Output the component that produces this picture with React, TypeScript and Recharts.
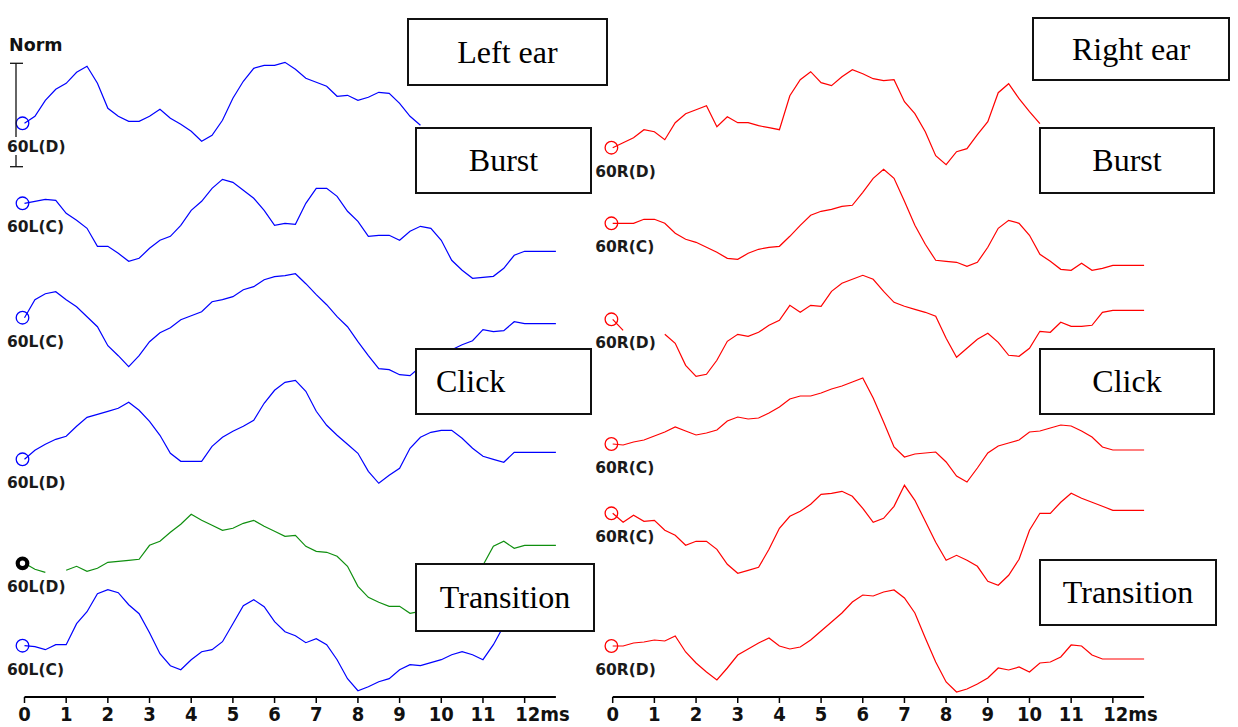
import React from "react";
import { LineChart, Line, XAxis, YAxis } from "recharts";

// ABR waveforms, 60 dB, left and right ear (amplitude units: 1 = ~Norm bar)
const times = [
  0, 0.25, 0.5, 0.75, 1, 1.25, 1.5, 1.75, 2, 2.25, 2.5, 2.75, 3, 3.25, 3.5, 3.75,
  4, 4.25, 4.5, 4.75, 5, 5.25, 5.5, 5.75, 6, 6.25, 6.5, 6.75, 7, 7.25, 7.5, 7.75,
  8, 8.25, 8.5, 8.75, 9, 9.25, 9.5, 9.75, 10, 10.25, 10.5, 10.75, 11, 11.25, 11.5,
  11.75, 12, 12.25, 12.5, 12.75,
];
const timeTicks = [0, 1, 2, 3, 4, 5, 6, 7, 8, 9, 10, 11, 12];

const n = null;

// left ear
const leftBurstD = [
  0, 0.07, 0.23, 0.34, 0.4, 0.51, 0.57, 0.4, 0.15, 0.07, 0.02, 0.02, 0.07, 0.14, 0.05, -0.01,
  -0.08, -0.18, -0.12, 0.03, 0.25, 0.42, 0.55, 0.58, 0.58, 0.61, 0.54, 0.45, 0.41, 0.37, 0.27, 0.28,
  0.23, 0.26, 0.31, 0.3, 0.2, 0.07, -0.02, n, n, n, n, n, n, n, n, n, n, n, n, n,
];
const leftBurstC = [
  0, 0.02, 0.04, 0.03, -0.1, -0.17, -0.25, -0.43, -0.43, -0.5, -0.58, -0.55, -0.45, -0.37, -0.33, -0.22,
  -0.07, 0.02, 0.15, 0.24, 0.21, 0.13, 0.05, -0.07, -0.22, -0.2, -0.21, 0.0, 0.15, 0.15, 0.07, -0.08,
  -0.18, -0.33, -0.32, -0.32, -0.37, -0.28, -0.23, -0.25, -0.37, -0.57, -0.67, -0.75, -0.74, -0.73, -0.65,
  -0.52, -0.48, -0.48, -0.48, -0.48,
];
const leftClickC = [
  0, 0.18, 0.24, 0.26, 0.18, 0.11, 0.01, -0.09, -0.28, -0.38, -0.49, -0.38, -0.24, -0.15, -0.1, -0.02,
  0.02, 0.06, 0.16, 0.18, 0.21, 0.28, 0.31, 0.38, 0.41, 0.42, 0.44, 0.34, 0.23, 0.13, 0.01, -0.09,
  -0.24, -0.38, -0.51, -0.52, -0.57, -0.58, -0.49, n, n, -0.32, -0.27, -0.23, -0.12, -0.14, -0.13,
  -0.04, -0.06, -0.06, -0.06, -0.06,
];
const leftClickD = [
  0, 0.09, 0.15, 0.2, 0.23, 0.33, 0.42, 0.45, 0.48, 0.51, 0.57, 0.49, 0.38, 0.24, 0.06, -0.02,
  -0.02, -0.02, 0.13, 0.22, 0.28, 0.33, 0.39, 0.56, 0.69, 0.77, 0.79, 0.68, 0.48, 0.34, 0.24, 0.15,
  0.06, -0.12, -0.24, -0.16, -0.09, 0.11, 0.22, 0.27, 0.29, 0.29, 0.21, 0.11, 0.03, 0.0, -0.03,
  0.07, 0.07, 0.07, 0.07, 0.07,
];
const leftTransD = [
  0, -0.06, -0.09, n, -0.07, -0.03, -0.08, -0.05, 0.01, 0.02, 0.03, 0.04, 0.18, 0.22, 0.31, 0.39,
  0.49, 0.43, 0.38, 0.33, 0.35, 0.4, 0.43, 0.37, 0.32, 0.27, 0.28, 0.17, 0.12, 0.11, 0.07, -0.03,
  -0.23, -0.34, -0.39, -0.43, -0.43, -0.5, -0.48, n, n, n, n, n, -0.02, 0.17, 0.22,
  0.15, 0.18, 0.18, 0.18, 0.18,
];
const leftTransC = [
  0, -0.01, -0.04, 0.01, 0.01, 0.22, 0.34, 0.52, 0.56, 0.53, 0.41, 0.32, 0.13, -0.08, -0.2, -0.24,
  -0.14, -0.06, -0.04, 0.04, 0.22, 0.4, 0.46, 0.39, 0.24, 0.14, 0.1, 0.03, 0.07, 0.01, -0.14, -0.33,
  -0.45, -0.41, -0.36, -0.33, -0.24, -0.19, -0.2, -0.17, -0.14, -0.09, -0.06, -0.09, -0.14, 0.01, 0.2,
  0.26, n, n, n, n,
];

// right ear
const rightBurstD = [
  0, 0.05, 0.1, 0.18, 0.16, 0.08, 0.25, 0.34, 0.38, 0.42, 0.21, 0.31, 0.25, 0.25, 0.22, 0.2,
  0.18, 0.52, 0.68, 0.76, 0.65, 0.62, 0.71, 0.78, 0.74, 0.69, 0.67, 0.68, 0.46, 0.34, 0.16, -0.08,
  -0.17, -0.04, -0.01, 0.13, 0.26, 0.55, 0.64, 0.49, 0.36, 0.24, n, n, n, n, n, n, n, n, n, n,
];
const rightBurstC = [
  0, 0, 0, 0.04, 0.04, 0, -0.1, -0.16, -0.19, -0.24, -0.29, -0.35, -0.36, -0.3, -0.26, -0.24,
  -0.23, -0.13, -0.02, 0.08, 0.12, 0.14, 0.17, 0.18, 0.31, 0.45, 0.54, 0.45, 0.22, -0.02, -0.21, -0.37,
  -0.38, -0.39, -0.43, -0.39, -0.24, -0.05, 0.03, 0.0, -0.12, -0.31, -0.38, -0.46, -0.47, -0.4, -0.47,
  -0.45, -0.42, -0.42, -0.42, -0.42,
];
const rightClickD = [
  0, -0.11, n, n, n, -0.15, -0.24, -0.46, -0.57, -0.55, -0.41, -0.22, -0.15, -0.17, -0.13, -0.06,
  -0.01, 0.14, 0.07, 0.14, 0.13, 0.28, 0.36, 0.4, 0.44, 0.4, 0.28, 0.17, 0.13, 0.1, 0.07, 0.03,
  -0.19, -0.38, -0.29, -0.2, -0.14, -0.23, -0.36, -0.37, -0.29, -0.12, -0.13, -0.03, -0.07, -0.07, -0.06,
  0.07, 0.09, 0.09, 0.09, 0.09,
];
const rightClickC = [
  0, -0.01, 0.02, 0.04, 0.08, 0.12, 0.17, 0.13, 0.09, 0.11, 0.14, 0.23, 0.27, 0.25, 0.26, 0.31,
  0.37, 0.45, 0.48, 0.48, 0.51, 0.55, 0.58, 0.62, 0.66, 0.46, 0.22, -0.03, -0.13, -0.1, -0.09, -0.08,
  -0.18, -0.32, -0.38, -0.24, -0.09, -0.02, 0.01, 0.04, 0.12, 0.13, 0.16, 0.19, 0.18, 0.13, 0.07,
  -0.03, -0.06, -0.06, -0.06, -0.06,
];
const rightTransC = [
  0, -0.09, -0.02, -0.08, -0.07, -0.17, -0.22, -0.32, -0.28, -0.28, -0.36, -0.51, -0.6, -0.57, -0.54, -0.36,
  -0.15, -0.03, 0.02, 0.09, 0.19, 0.2, 0.22, 0.17, 0.05, -0.09, -0.05, 0.07, 0.28, 0.13, -0.08, -0.29,
  -0.47, -0.42, -0.47, -0.53, -0.68, -0.72, -0.62, -0.46, -0.17, 0.0, 0.0, 0.11, 0.2, 0.15, 0.11,
  0.07, 0.03, 0.03, 0.03, 0.03,
];
const rightTransD = [
  0, 0, 0.03, 0.04, 0.06, 0.05, 0.1, -0.06, -0.17, -0.26, -0.34, -0.22, -0.09, -0.03, 0.03, 0.08,
  0.0, -0.03, -0.01, 0.06, 0.15, 0.24, 0.33, 0.44, 0.51, 0.5, 0.54, 0.56, 0.48, 0.33, 0.08, -0.16,
  -0.36, -0.46, -0.43, -0.38, -0.32, -0.22, -0.24, -0.21, -0.26, -0.17, -0.16, -0.11, 0.01, 0.0, -0.09,
  -0.13, -0.13, -0.13, -0.13, -0.13,
];

const BLUE = "#0000ff";
const RED = "#ff0000";
const GREEN = "#0f8f0f";

type Trace = {
  key: string;
  values: (number | null)[];
  label: string;
  color: string;
  base: number; // baseline, px from top of plot
  ring?: boolean;
};

const leftTraces: Trace[] = [
  { key: "lbd", values: leftBurstD, label: "60L(D)", color: BLUE, base: 123.3 },
  { key: "lbc", values: leftBurstC, label: "60L(C)", color: BLUE, base: 203.3 },
  { key: "lcc", values: leftClickC, label: "60L(C)", color: BLUE, base: 317.7 },
  { key: "lcd", values: leftClickD, label: "60L(D)", color: BLUE, base: 459.3 },
  { key: "ltd", values: leftTransD, label: "60L(D)", color: GREEN, base: 563.3, ring: true },
  { key: "ltc", values: leftTransC, label: "60L(C)", color: BLUE, base: 645.7 },
];

const rightTraces: Trace[] = [
  { key: "rbd", values: rightBurstD, label: "60R(D)", color: RED, base: 147.7 },
  { key: "rbc", values: rightBurstC, label: "60R(C)", color: RED, base: 223.3 },
  { key: "rcd", values: rightClickD, label: "60R(D)", color: RED, base: 319.3 },
  { key: "rcc", values: rightClickC, label: "60R(C)", color: RED, base: 444 },
  { key: "rtc", values: rightTransC, label: "60R(C)", color: RED, base: 513.3 },
  { key: "rtd", values: rightTransD, label: "60R(D)", color: RED, base: 646 },
];

const PLOT_H = 697;
const PX_PER_UNIT = 100;
const LABEL_FONT = "'DejaVu Sans', Verdana, sans-serif";

function TimeTick(props: any) {
  const { x, y, payload } = props;
  const v = payload.value;
  const style = {
    fontFamily: "'Liberation Sans Narrow', 'DejaVu Sans Condensed', sans-serif",
    fontWeight: 700,
    fontSize: 20,
    fill: "#111",
  };
  if (v === 12) {
    return (
      <text x={x - 9.5} y={y + 16} textAnchor="start" style={style}>
        12ms
      </text>
    );
  }
  return (
    <text x={x} y={y + 16} textAnchor="middle" style={style}>
      {v}
    </text>
  );
}

function makeDot(tr: Trace, shift: number) {
  return (p: any) => {
    if (p.index !== 0 || p.cy == null) return <g key={`${tr.key}-d${p.index}`} />;
    const cx = p.cx + shift;
    return (
      <g key={`${tr.key}-d0`}>
        {tr.ring ? (
          <circle cx={cx} cy={p.cy} r={4.8} fill="#fff" stroke="#000" strokeWidth={4.2} />
        ) : (
          <circle cx={cx} cy={p.cy} r={6.3} fill="none" stroke={tr.color} strokeWidth={1.3} />
        )}
        <text
          x={p.cx - 17.5}
          y={p.cy + 29}
          style={{ fontFamily: LABEL_FONT, fontWeight: 700, fontSize: 15.5, fill: "#1a1a1a" }}
        >
          {tr.label}
        </text>
      </g>
    );
  };
}

function EarPanel({ traces, left, marginLeft, shift }: { traces: Trace[]; left: number; marginLeft: number; shift: number }) {
  const rows = times.map((t, i) => {
    const row: Record<string, number | null> = { t };
    traces.forEach((tr) => {
      row[tr.key] = tr.values[i];
    });
    return row;
  });
  return (
    <div style={{ position: "absolute", left, top: 0 }}>
      <LineChart width={600} height={727} data={rows} margin={{ top: 0, right: 600 - marginLeft - 531.4, bottom: 0, left: marginLeft }}>
        <XAxis
          dataKey="t"
          type="number"
          domain={[0, 12.75]}
          ticks={timeTicks}
          interval={0}
          height={30}
          tickSize={6}
          tickMargin={2}
          axisLine={{ stroke: "#000", strokeWidth: 1.8 }}
          tickLine={{ stroke: "#000", strokeWidth: 1.5 }}
          tick={<TimeTick />}
        />
        {traces.map((tr) => (
          <YAxis
            key={`y-${tr.key}`}
            yAxisId={tr.key}
            hide
            type="number"
            domain={[tr.base / PX_PER_UNIT - PLOT_H / PX_PER_UNIT, tr.base / PX_PER_UNIT]}
          />
        ))}
        {traces.map((tr) => (
          <Line
            key={tr.key}
            yAxisId={tr.key}
            dataKey={tr.key}
            type="linear"
            stroke={tr.color}
            strokeWidth={1.2}
            dot={makeDot(tr, shift)}
            activeDot={false}
            connectNulls={false}
            isAnimationActive={false}
          />
        ))}
      </LineChart>
    </div>
  );
}

type Box = { text: string; left: number; top: number; width: number; height: number; align?: "left" };

const boxes: Box[] = [
  { text: "Left ear", left: 407, top: 18, width: 201, height: 68 },
  { text: "Burst", left: 415, top: 127, width: 177, height: 67 },
  { text: "Click", left: 415, top: 348, width: 177, height: 67, align: "left" },
  { text: "Transition", left: 415, top: 563, width: 180, height: 69 },
  { text: "Right ear", left: 1032, top: 17, width: 198, height: 64 },
  { text: "Burst", left: 1039, top: 127, width: 176, height: 67 },
  { text: "Click", left: 1039, top: 348, width: 176, height: 67 },
  { text: "Transition", left: 1039, top: 559, width: 178, height: 67 },
];

export default function App() {
  return (
    <div style={{ position: "absolute", left: 0, top: 0, width: 1238, height: 727, background: "#fff", overflow: "hidden" }}>
      <EarPanel traces={leftTraces} left={0} marginLeft={24.5} shift={-2} />
      <EarPanel traces={rightTraces} left={590} marginLeft={22.7} shift={-1.3} />
      <svg width={100} height={200} style={{ position: "absolute", left: 0, top: 0 }}>
        <text x={9} y={51} style={{ fontFamily: LABEL_FONT, fontWeight: 700, fontSize: 17.5, fill: "#111" }}>
          Norm
        </text>
        <g stroke="#111" strokeWidth={1.3}>
          <line x1={16} y1={63.3} x2={16} y2={137} />
          <line x1={16} y1={155} x2={16} y2={166.7} />
          <line x1={10} y1={63.3} x2={23} y2={63.3} />
          <line x1={10} y1={166.7} x2={23} y2={166.7} />
        </g>
      </svg>
      {boxes.map((b, i) => (
        <div
          key={i}
          style={{
            position: "absolute",
            left: b.left,
            top: b.top,
            width: b.width,
            height: b.height,
            boxSizing: "border-box",
            border: "2px solid #111",
            background: "#fff",
            display: "flex",
            alignItems: "center",
            justifyContent: b.align === "left" ? "flex-start" : "center",
            paddingLeft: b.align === "left" ? 19 : 0,
            fontFamily: "'Liberation Serif', 'Times New Roman', serif",
            fontSize: 32,
            color: "#000",
          }}
        >
          {b.text}
        </div>
      ))}
    </div>
  );
}
